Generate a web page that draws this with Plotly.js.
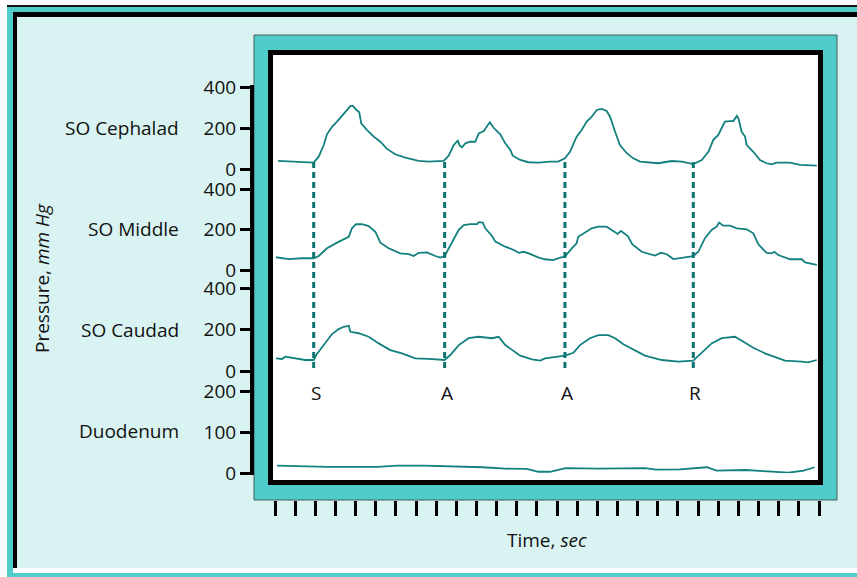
<!DOCTYPE html>
<html>
<head>
<meta charset="utf-8">
<script src="https://cdn.plot.ly/plotly-3.0.1.min.js"></script>
<style>html,body{margin:0;padding:0;background:#fff;}#chart{width:857px;height:577px;}</style>
</head>
<body>
<div id="chart"></div>
<script>
// ---- Data (time in sec, pressure in mm Hg) ----
const cephaladT = [0.15,0.84,1.50,1.92,2.17,2.42,2.58,2.83,3.08,3.33,3.57,3.74,3.86,3.99,4.18,4.28,4.57,4.90,5.23,5.56,5.97,6.47,7.13,7.63,8.37,8.62,8.87,9.07,9.17,9.28,9.45,9.69,9.94,10.11,10.36,10.52,10.66,10.85,11.18,11.43,11.68,11.80,12.17,12.59,13.09,13.66,14.06,14.39,14.64,14.97,15.22,15.47,15.72,15.97,16.21,16.46,16.63,16.88,17.12,17.46,17.78,18.12,18.53,19.02,19.69,20.19,20.76,21.18,21.51,21.75,22.00,22.17,22.33,22.58,22.75,22.92,23.00,23.16,23.33,23.41,23.74,24.07,24.40,24.65,24.90,25.56,26.06,26.89];
const cephaladP = [40,36,31,31,60,117,169,206,231,260,283,307,309,293,277,223,190,158,133,98,72,55,40,36,40,65,117,138,114,106,125,133,133,174,185,206,228,201,169,125,93,65,44,33,31,36,36,52,84,158,190,231,255,288,293,283,255,182,117,77,52,36,31,28,39,36,24,44,84,141,166,199,231,234,234,259,247,182,158,117,84,44,28,23,31,31,20,16];

const middleT = [0.05,0.68,1.34,1.92,2.17,2.58,3.08,3.41,3.66,3.82,4.02,4.32,4.65,4.98,5.23,5.64,6.22,6.64,6.88,7.13,7.54,7.96,8.20,8.42,8.62,8.87,9.12,9.37,9.69,10.03,10.11,10.31,10.44,10.77,10.94,11.43,11.85,12.10,12.34,12.59,13.09,13.40,13.81,14.15,14.39,14.73,14.97,15.05,15.30,15.72,16.05,16.46,16.71,17.01,17.17,17.51,17.73,18.20,18.86,19.16,19.44,19.77,20.27,20.76,21.01,21.34,21.67,21.92,22.04,22.25,22.58,22.92,23.41,23.74,23.99,24.40,24.65,24.78,24.98,25.56,26.14,26.31,26.89];
const middleP = [63,54,58,58,69,107,135,152,164,206,226,227,217,189,135,107,82,78,69,85,87,69,61,69,107,157,198,222,227,227,236,234,206,168,140,115,99,85,90,82,61,53,49,61,66,107,132,164,181,206,214,214,198,178,193,168,127,90,71,85,78,54,61,69,90,157,198,214,234,219,219,206,201,181,127,85,82,90,74,53,53,38,25];

const caudadT = [0.05,0.35,0.51,1.01,1.50,1.92,2.08,2.42,2.67,2.83,3.16,3.41,3.66,3.74,4.15,4.65,5.15,5.72,6.30,6.96,7.63,8.42,8.70,9.12,9.61,10.11,10.77,11.10,11.43,12.17,12.76,13.17,13.40,14.06,14.39,14.81,15.14,15.63,16.05,16.54,16.88,17.29,17.54,18.36,19.19,20.02,20.76,21.18,21.67,22.17,22.83,23.33,23.74,24.32,25.31,26.14,26.47,26.89];
const caudadP = [61,58,69,61,53,53,82,125,158,178,202,213,218,189,182,165,133,101,85,61,58,53,77,125,158,165,158,165,125,74,56,50,61,69,74,88,125,158,173,173,158,129,117,74,53,45,50,88,133,158,165,136,112,85,50,45,42,53];

const duodenumT = [0.10,2.60,5.10,6.06,7.40,10.29,11.44,12.50,13.07,13.65,14.42,16.05,18.36,18.93,20.09,21.44,21.91,23.35,24.70,25.46,26.24,26.78];
const duodenumP = [18,15,15,18,18,14,10.5,10,3,3,12,10.5,12,8,9,14,5.6,7.3,3.2,0.7,5.6,14];

const eventTimes = [1.92, 8.42, 14.39, 20.76];
const eventLabels = ['S', 'A', 'A', 'R'];

const panelNames = ['SO Cephalad', 'SO Middle', 'SO Caudad', 'Duodenum'];
const pressureTicks = [0, 200, 400];
const duodenumTicks = [0, 100, 200];
const timeTicks = [0,1,2,3,4,5,6,7,8,9,10,11,12,13,14,15,16,17,18,19,20,21,22,23,24,25,26,27];

// ---- Layout helpers (pixel geometry of the figure) ----
const W = 857, H = 577;
const fx = x => x / W;
const fy = y => 1 - y / H;
const dom = (bottom, top) => [fy(bottom), fy(top)];

const lineColor = '#12807d';
const teal = '#4ecdca';
const pale = '#d9f3f2';
const FONT = 'Open Sans';

function rect(x0, y0, x1, y1, color, lc, lw) {
  return {type: 'rect', xref: 'paper', yref: 'paper', layer: 'below',
    x0: fx(x0), x1: fx(x1), y0: fy(y0), y1: fy(y1),
    fillcolor: color, line: {width: lw || 0, color: lc || color}};
}

const shapes = [
  rect(7, 5, 857, 577, teal),
  rect(7, 5, 857, 7, '#111'),
  rect(13, 12, 857, 568, '#000'),
  rect(13, 568, 857, 573, '#ffffff'),
  rect(17, 17, 857, 568, pale),
  rect(254, 35, 837, 500, teal, '#4a5c5c', 1),
  rect(268, 50, 823, 485, '#000'),
  rect(273, 55, 818, 480, '#ffffff'),
  {type: 'line', xref: 'paper', yref: 'paper', layer: 'above',
   x0: fx(252), x1: fx(252), y0: fy(85), y1: fy(475), line: {color: '#000', width: 4}}
];

eventTimes.forEach(t => {
  shapes.push({type: 'line', xref: 'x', yref: 'paper', layer: 'above',
    x0: t, x1: t, y0: fy(162), y1: fy(369),
    line: {color: '#0e7472', width: 3, dash: '6px,4px'}});
});

const series = [[cephaladT, cephaladP], [middleT, middleP], [caudadT, caudadP], [duodenumT, duodenumP]];
const traces = series.map((s, i) => ({
  x: s[0], y: s[1], type: 'scatter', mode: 'lines',
  xaxis: 'x', yaxis: i === 0 ? 'y' : 'y' + (i + 1),
  line: {color: lineColor, width: 1.8}, hoverinfo: 'skip', showlegend: false
}));

function yax(domain, range, ticks) {
  return {domain: domain, range: range, anchor: 'free', position: fx(252),
    tickvals: ticks, ticktext: ticks.map(String), ticks: 'outside', ticklen: 12, tickwidth: 3,
    tickcolor: '#000', showline: false, showgrid: false, zeroline: false,
    tickfont: {family: FONT, size: 19, color: '#111'}, fixedrange: true};
}

const annotations = [];
const labelY = [128, 229, 330, 431];
panelNames.forEach((n, i) => annotations.push({
  text: n, xref: 'paper', yref: 'paper', x: fx(181), y: fy(labelY[i]),
  xanchor: 'right', yanchor: 'middle', showarrow: false,
  font: {family: FONT, size: 19, color: '#111'}}));
annotations.push({text: 'Pressure, <i>mm Hg</i>', xref: 'paper', yref: 'paper',
  x: fx(42), y: fy(278), textangle: -90, showarrow: false, xanchor: 'center', yanchor: 'middle',
  font: {family: FONT, size: 19, color: '#111'}});
annotations.push({text: 'Time, <i>sec</i>', xref: 'paper', yref: 'paper',
  x: fx(547), y: fy(540), showarrow: false, xanchor: 'center', yanchor: 'middle',
  font: {family: FONT, size: 19, color: '#111'}});
eventTimes.forEach((t, i) => annotations.push({
  text: eventLabels[i], xref: 'x', yref: 'paper', x: t, y: fy(393), xshift: 2,
  showarrow: false, xanchor: 'center', yanchor: 'middle',
  font: {family: FONT, size: 19, color: '#111'}}));

const layout = {
  width: W, height: H, margin: {l: 0, r: 0, t: 0, b: 0},
  paper_bgcolor: '#ffffff', plot_bgcolor: 'rgba(0,0,0,0)',
  showlegend: false,
  xaxis: {domain: [fx(270), fx(824)], range: [-0.248, 27.248], anchor: 'free', position: fy(500),
    tickvals: timeTicks, ticks: 'outside', ticklen: 15, tickwidth: 3, tickcolor: '#000',
    showticklabels: false, showline: false, showgrid: false, zeroline: false, fixedrange: true},
  yaxis: yax(dom(169, 87), [0, 400], pressureTicks),
  yaxis2: yax(dom(270, 189), [0, 400], pressureTicks),
  yaxis3: yax(dom(371, 288), [0, 400], pressureTicks),
  yaxis4: yax(dom(473, 391), [0, 200], duodenumTicks),
  shapes: shapes,
  annotations: annotations
};

Plotly.newPlot('chart', traces, layout, {displayModeBar: false, staticPlot: true});
</script>
</body>
</html>
